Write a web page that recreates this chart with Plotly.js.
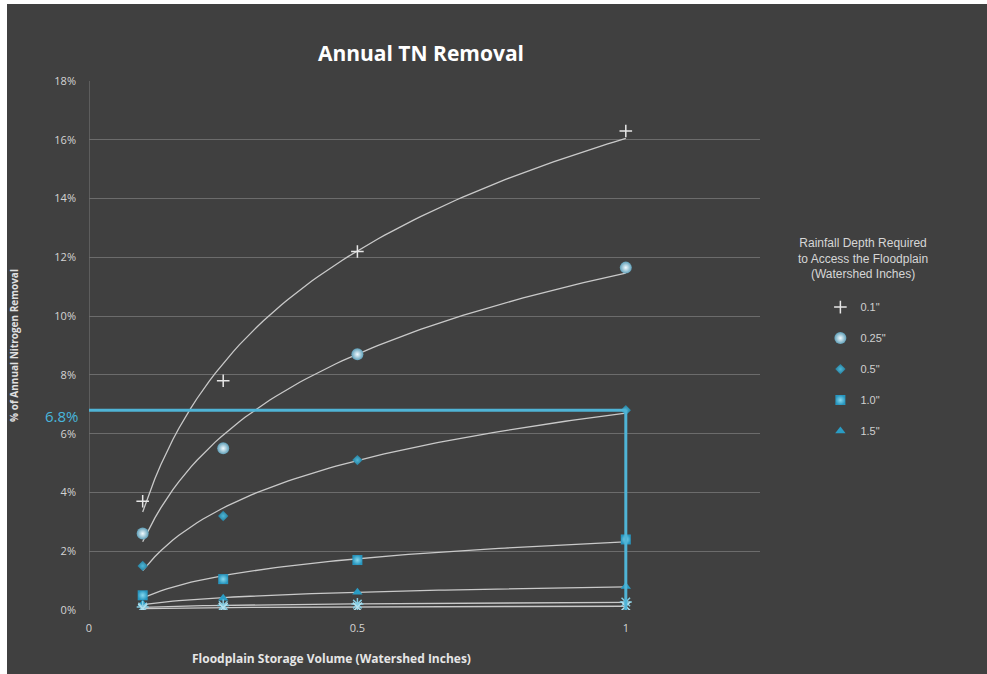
<!DOCTYPE html>
<html>
<head>
<meta charset="utf-8">
<script src="https://cdn.plot.ly/plotly-3.0.1.min.js"></script>
<style>
  html, body { margin: 0; padding: 0; background: #ffffff; width: 987px; height: 674px; overflow: hidden; }
  #chart { position: absolute; left: 7px; top: 4px; width: 980px; height: 670px; }
</style>
</head>
<body>
<div id="chart"></div>
<script>
// ---- Data ----
const storageVolume = [0.1, 0.25, 0.5, 1];            // Floodplain storage volume (watershed inches)
const seriesNames = ['0.1"', '0.25"', '0.5"', '1.0"', '1.5"'];
const removal01  = [3.7, 7.8, 12.2, 16.3];            // % annual TN removal
const removal025 = [2.6, 5.5, 8.7, 11.65];
const removal05  = [1.5, 3.2, 5.1, 6.8];
const removal10  = [0.5, 1.05, 1.7, 2.4];
const removal15  = [0.2, 0.4, 0.6, 0.8];
const removalExtraA = [0.1, 0.15, 0.2, 0.27];         // unlabeled series near zero
const removalExtraB = [0.05, 0.08, 0.1, 0.13];
const yTickVals = [0, 2, 4, 6, 8, 10, 12, 14, 16, 18];
const yTickText = ['0%', '2%', '4%', '6%', '8%', '10%', '12%', '14%', '16%', '18%'];
const xTickVals = [0, 0.5, 1];
const xTickText = ['0', '0.5', '1'];
const highlightX = 1;
const highlightY = 6.8;
const highlightLabel = '6.8%';

// ---- Logarithmic trendline (least-squares fit of the data) ----
function logFit(xs, ys) {
  const lx = xs.map(Math.log);
  const n = xs.length;
  const mx = lx.reduce((a, b) => a + b, 0) / n;
  const my = ys.reduce((a, b) => a + b, 0) / n;
  let sxy = 0, sxx = 0;
  for (let i = 0; i < n; i++) { sxy += (lx[i] - mx) * (ys[i] - my); sxx += (lx[i] - mx) ** 2; }
  const a = sxy / sxx, b = my - a * mx;
  const x0 = Math.min(...xs), x1 = Math.max(...xs);
  const cx = [], cy = [];
  for (let i = 0; i <= 80; i++) {
    const x = x0 + (x1 - x0) * i / 80;
    cx.push(x); cy.push(a * Math.log(x) + b);
  }
  return { x: cx, y: cy };
}

const allSeries = [
  { name: seriesNames[0], y: removal01, legend: true,
    marker: { symbol: 'cross-thin', size: 9, color: '#e6e6e6', line: { color: '#e6e6e6', width: 1.5 } } },
  { name: seriesNames[1], y: removal025, legend: true,
    marker: { symbol: 'circle', size: 12, color: '#5f9fb8', gradient: { type: 'radial', color: '#f2fbff' }, line: { width: 0 } } },
  { name: seriesNames[2], y: removal05, legend: true,
    marker: { symbol: 'diamond', size: 8, color: '#237d9c', gradient: { type: 'radial', color: '#4fb6d6' }, line: { width: 0 } } },
  { name: seriesNames[3], y: removal10, legend: true,
    marker: { symbol: 'square', size: 10, color: '#2796bf', gradient: { type: 'radial', color: '#86d8ee' }, line: { width: 0 } } },
  { name: seriesNames[4], y: removal15, legend: true,
    marker: { symbol: 'triangle-up', size: 9, color: '#2a9cc4', line: { width: 0 } } },
  { name: '2.0"', y: removalExtraA, legend: false,
    marker: { symbol: 'asterisk-open', size: 10, color: '#86cde2', line: { color: '#86cde2', width: 1.5 } } },
  { name: '3.0"', y: removalExtraB, legend: false,
    marker: { symbol: 'x-thin-open', size: 9, color: '#b4e2ef', line: { color: '#b4e2ef', width: 1.5 } } }
];

const traces = [];
allSeries.forEach(s => {
  const f = logFit(storageVolume, s.y);
  traces.push({
    x: f.x, y: f.y, mode: 'lines', type: 'scatter', showlegend: false, hoverinfo: 'skip',
    line: { color: '#c9c9c9', width: 1.3 }
  });
});
allSeries.forEach((s, i) => {
  traces.push({
    x: storageVolume, y: s.y, name: s.name, mode: 'markers', type: 'scatter',
    showlegend: s.legend, legendgroup: 'g' + i, marker: s.marker
  });
});

const fontFam = '"Open Sans", "Liberation Sans", Arial, sans-serif';
const layout = {
  width: 980, height: 670,
  paper_bgcolor: '#404040', plot_bgcolor: '#404040',
  margin: { l: 82, r: 227, t: 77, b: 64 },
  title: { text: '<b>Annual TN Removal</b>', font: { family: fontFam, size: 21, color: '#ffffff' },
           x: 0.4224, xanchor: 'center', y: 0.926, yanchor: 'middle' },
  xaxis: {
    range: [0, 1.25], tickvals: xTickVals, ticktext: xTickText,
    showgrid: false, zeroline: false, showline: false, ticks: '',
    tickfont: { family: fontFam, size: 11, color: '#d4d4d4' }, ticklabelstandoff: 10
  },
  yaxis: {
    range: [0, 18], tickvals: yTickVals, ticktext: yTickText,
    showgrid: true, gridcolor: '#6c6c6c', gridwidth: 1, zeroline: false,
    showline: false, ticks: '',
    tickfont: { family: fontFam, size: 11, color: '#d4d4d4' }, ticklabelstandoff: 12,
    title: { text: '<b>% of Annual Nitrogen Removal</b>', font: { family: fontFam, size: 10, color: '#e0e0e0' }, standoff: 36 }
  },
  legend: {
    x: 1.09, y: 0.6, xanchor: 'left', yanchor: 'top',
    bgcolor: 'rgba(0,0,0,0)', traceorder: 'grouped', tracegroupgap: 12,
    font: { family: '"Liberation Sans", Arial, sans-serif', size: 11, color: '#d0d0d0' }
  },
  annotations: [
    { xref: 'paper', yref: 'paper', x: 1.1535, y: 0.665, xanchor: 'center', yanchor: 'middle', showarrow: false,
      text: 'Rainfall Depth Required<br>to Access the Floodplain<br>(Watershed Inches)', align: 'center',
      font: { family: '"Liberation Sans", Arial, sans-serif', size: 12, color: '#d6d6d6' } },
    { xref: 'paper', yref: 'paper', x: 0.3607, y: -0.092, xanchor: 'center', yanchor: 'middle', showarrow: false,
      text: '<b>Floodplain Storage Volume (Watershed Inches)</b>',
      font: { family: fontFam, size: 12, color: '#e6e6e6' } },
    { xref: 'paper', yref: 'y', x: 0, y: highlightY, xanchor: 'right', yanchor: 'middle', xshift: -9, yshift: -6,
      showarrow: false, text: highlightLabel, borderpad: 0,
      font: { family: fontFam, size: 15, color: '#49b6dc' } }
  ],
  shapes: [
    { type: 'line', xref: 'x', yref: 'paper', x0: 0, x1: 0, y0: 0, y1: 1, line: { color: '#7a7a7a', width: 1 }, layer: 'below' },
    { type: 'line', xref: 'x', yref: 'y', x0: -0.01, x1: highlightX, y0: highlightY, y1: highlightY,
      line: { color: '#4fb4d6', width: 3 }, layer: 'above' },
    { type: 'line', xref: 'x', yref: 'y', x0: highlightX, x1: highlightX, y0: highlightY, y1: -0.1,
      line: { color: '#4fb4d6', width: 3 }, layer: 'above' }
  ]
};

Plotly.newPlot('chart', traces, layout, { displayModeBar: false, staticPlot: true });
</script>
</body>
</html>
